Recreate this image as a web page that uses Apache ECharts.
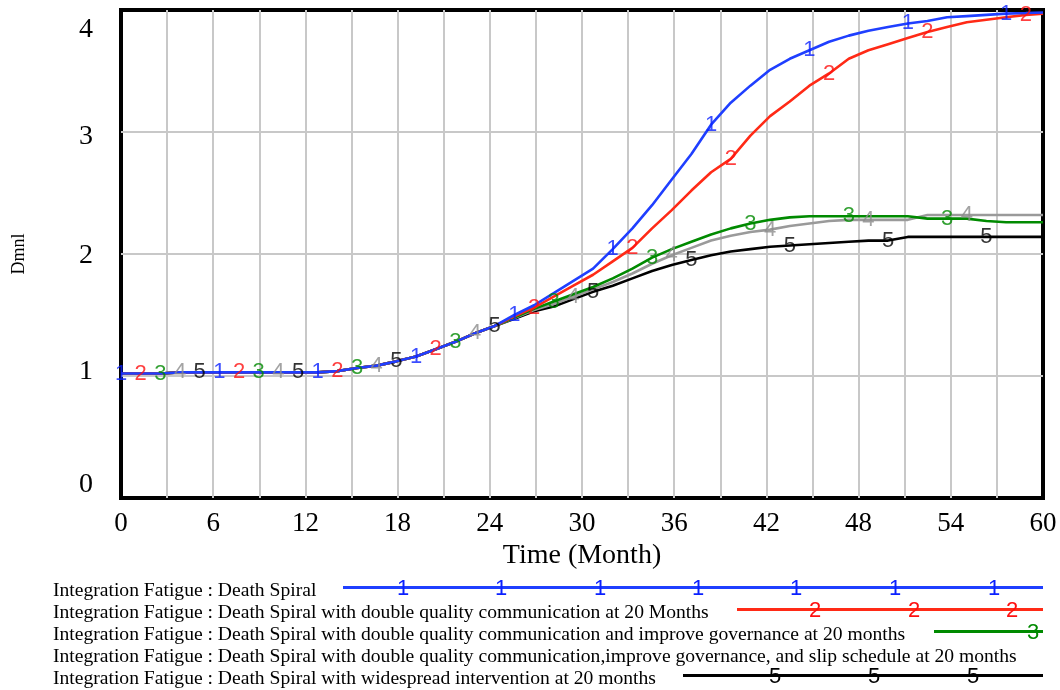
<!DOCTYPE html>
<html>
<head>
<meta charset="utf-8">
<script src="https://cdn.jsdelivr.net/npm/echarts@6/dist/echarts.min.js"></script>
<style>
  html, body { margin: 0; padding: 0; background: #fff; }
  #chart { width: 1060px; height: 690px; }
</style>
</head>
<body>
<div id="chart"></div>
<script>
// ---- data ----
const times = [0, 1.28, 2.56, 3.84, 5.12, 6.4, 7.68, 8.96, 10.24, 11.52, 12.8, 14.08, 15.36, 16.64, 17.92, 19.2,
  20.48, 21.76, 23.04, 24.32, 25.6, 26.88, 28.16, 29.44, 30.72, 32, 33.28, 34.56, 35.84, 37.12, 38.4, 39.68,
  40.96, 42.24, 43.52, 44.8, 46.08, 47.36, 48.64, 49.92, 51.2, 52.48, 53.76, 55.04, 56.32, 57.6, 58.88, 60];

const deathSpiral = [1.02, 1.02, 1.02, 1.03, 1.03, 1.03, 1.03, 1.03, 1.03, 1.03, 1.03, 1.04, 1.066, 1.085, 1.12, 1.16,
  1.22, 1.28, 1.35, 1.41, 1.50, 1.58, 1.68, 1.78, 1.88, 2.04, 2.21, 2.40, 2.61, 2.82, 3.06, 3.24,
  3.38, 3.51, 3.60, 3.67, 3.74, 3.79, 3.83, 3.86, 3.89, 3.91, 3.94, 3.95, 3.96, 3.97, 3.975, 3.98];

const doubleQuality = [1.02, 1.02, 1.02, 1.03, 1.03, 1.03, 1.03, 1.03, 1.03, 1.03, 1.03, 1.04, 1.066, 1.085, 1.12, 1.16,
  1.22, 1.28, 1.35, 1.41, 1.49, 1.56, 1.65, 1.74, 1.83, 1.94, 2.05, 2.21, 2.36, 2.52, 2.67, 2.78,
  2.97, 3.13, 3.25, 3.38, 3.48, 3.60, 3.67, 3.72, 3.77, 3.82, 3.86, 3.90, 3.92, 3.94, 3.96, 3.97];

const improveGovernance = [1.02, 1.02, 1.02, 1.03, 1.03, 1.03, 1.03, 1.03, 1.03, 1.03, 1.03, 1.04, 1.066, 1.085, 1.12, 1.16,
  1.22, 1.28, 1.35, 1.41, 1.48, 1.55, 1.61, 1.67, 1.73, 1.80, 1.88, 1.97, 2.04, 2.10, 2.16, 2.21,
  2.25, 2.28, 2.30, 2.31, 2.31, 2.31, 2.31, 2.31, 2.31, 2.29, 2.29, 2.29, 2.27, 2.26, 2.26, 2.26];

const slipSchedule = [1.02, 1.02, 1.02, 1.03, 1.03, 1.03, 1.03, 1.03, 1.03, 1.03, 1.03, 1.04, 1.066, 1.085, 1.12, 1.16,
  1.22, 1.28, 1.35, 1.41, 1.475, 1.54, 1.59, 1.65, 1.71, 1.77, 1.84, 1.92, 1.99, 2.05, 2.11, 2.15,
  2.18, 2.20, 2.23, 2.25, 2.27, 2.28, 2.28, 2.28, 2.28, 2.32, 2.32, 2.32, 2.32, 2.32, 2.32, 2.32];

const widespread = [1.02, 1.02, 1.02, 1.03, 1.03, 1.03, 1.03, 1.03, 1.03, 1.03, 1.03, 1.04, 1.066, 1.085, 1.12, 1.16,
  1.22, 1.28, 1.35, 1.41, 1.47, 1.53, 1.57, 1.63, 1.69, 1.74, 1.80, 1.86, 1.91, 1.95, 1.99, 2.02,
  2.04, 2.06, 2.07, 2.08, 2.09, 2.10, 2.11, 2.11, 2.14, 2.14, 2.14, 2.14, 2.14, 2.14, 2.14, 2.14];

const seriesNames = [
  'Integration Fatigue : Death Spiral',
  'Integration Fatigue : Death Spiral with double quality communication at 20 Months',
  'Integration Fatigue : Death Spiral with double quality communication and improve governance at 20 months',
  'Integration Fatigue : Death Spiral with double quality communication,improve governance, and slip schedule at 20 months',
  'Integration Fatigue : Death Spiral with widespread intervention at 20 months'
];
const markerLabels = ['1', '2', '3', '4', '5'];
const xTitle = 'Time (Month)';
const yTitle = 'Dmnl';

// ---- styling ----
const lineColors = ['#1f3fff', '#ff2a16', '#008a00', '#9a9a9a', '#000000'];
const markColors = ['#0a20ff', '#ff1010', '#008a00', '#8c8c8c', '#000000'];
const allValues = [deathSpiral, doubleQuality, improveGovernance, slipSchedule, widespread];

const lineSeries = [];
const markSeries = [];
for (let k = allValues.length - 1; k >= 0; k--) {
  const vals = allValues[k];
  lineSeries.push({
    name: seriesNames[k],
    type: 'line',
    data: times.map((t, i) => [t, vals[i]]),
    symbol: 'none',
    lineStyle: { color: lineColors[k], width: 2.6 },
    z: 10 - k,
    silent: true
  });
  markSeries.push({
    type: 'scatter',
    data: times.map((t, i) => [t, vals[i], i]).filter(d => d[2] < times.length - 1 && d[2] % 5 === k),
    symbol: 'circle',
    symbolSize: 1,
    itemStyle: { color: 'rgba(0,0,0,0)' },
    label: {
      show: true, position: 'inside', formatter: markerLabels[k],
      fontFamily: 'Liberation Sans', fontSize: 22, color: markColors[k]
    },
    z: 20,
    silent: true
  });
}

// legend drawn as graphic
const legendRows = [591, 613, 635, 657, 679];
const legendLineStart = [343, 737, 934, null, 683];
const legendMarkX = [
  [403, 501, 600, 698, 796, 895, 994],
  [815, 914, 1012],
  [1033],
  [],
  [775, 874, 973]
];
const graphics = [];
seriesNames.forEach((nm, k) => {
  graphics.push({
    type: 'text', x: 53, y: legendRows[k],
    style: { text: nm, font: '19.6px "Liberation Serif"', fill: '#000', verticalAlign: 'middle', align: 'left' }
  });
  if (legendLineStart[k] !== null) {
    graphics.push({
      type: 'line',
      shape: { x1: legendLineStart[k], y1: legendRows[k] - 3.5, x2: 1043, y2: legendRows[k] - 3.5 },
      style: { stroke: lineColors[k], lineWidth: 3 }
    });
  }
  legendMarkX[k].forEach(mx => {
    graphics.push({
      type: 'text', x: mx, y: legendRows[k] - 2.5,
      style: { text: markerLabels[k], font: '22px "Liberation Sans"', fill: markColors[k], align: 'center', verticalAlign: 'middle' }
    });
  });
});

const yRich = {};
const yPad = { 4: [40, 0, 0, 0], 3: [10, 0, 0, 0], 2: [3, 0, 0, 0], 1: [0, 0, 8, 0], 0: [0, 0, 26, 0] };
[0, 1, 2, 3, 4].forEach(v => {
  yRich['l' + v] = { fontFamily: 'Liberation Serif', fontSize: 28, color: '#000', padding: yPad[v] };
});

const chart = echarts.init(document.getElementById('chart'), null, { renderer: 'canvas' });
chart.setOption({
  animation: false,
  backgroundColor: '#fff',
  grid: { left: 121, right: 17, top: 10, bottom: 192, show: true, borderColor: '#000', borderWidth: 4 },
  xAxis: {
    type: 'value', min: 0, max: 60, interval: 3,
    axisLine: { show: false }, axisTick: { show: false },
    splitLine: { show: true, showMinLine: false, showMaxLine: false, lineStyle: { color: '#c8c8c8', width: 2 } },
    axisLabel: {
      formatter: v => (v % 6 === 0 ? String(v) : ''),
      fontFamily: 'Liberation Serif', fontSize: 27, color: '#000', margin: 12
    },
    name: xTitle, nameLocation: 'middle', nameGap: 43,
    nameTextStyle: { fontFamily: 'Liberation Serif', fontSize: 28, color: '#000' }
  },
  yAxis: {
    type: 'value', min: 0, max: 4, interval: 1,
    axisLine: { show: false }, axisTick: { show: false },
    splitLine: { show: true, showMinLine: false, showMaxLine: false, lineStyle: { color: '#c8c8c8', width: 2 } },
    axisLabel: {
      formatter: v => '{l' + v + '|' + v + '}',
      rich: yRich, margin: 28,
      fontFamily: 'Liberation Serif', fontSize: 28, color: '#000'
    },
    name: yTitle, nameLocation: 'middle', nameGap: 93, nameRotate: 90,
    nameTextStyle: { fontFamily: 'Liberation Serif', fontSize: 18, color: '#000' }
  },
  series: lineSeries.concat(markSeries),
  graphic: graphics
});
</script>
</body>
</html>
